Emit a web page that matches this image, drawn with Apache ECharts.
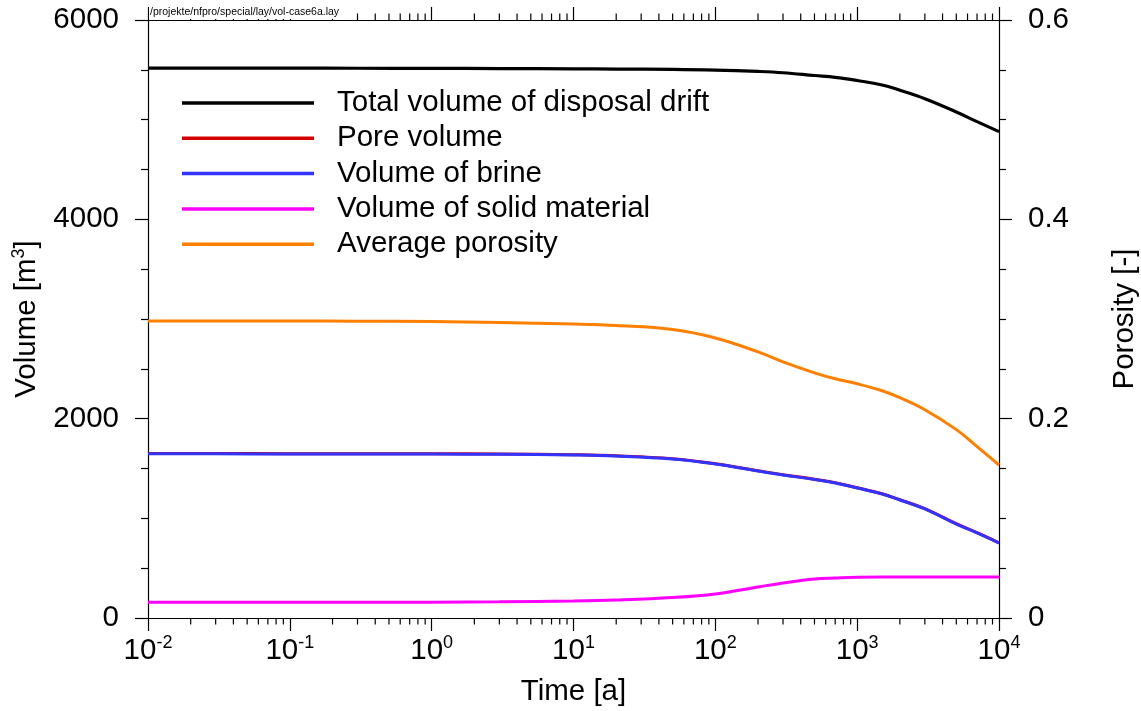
<!DOCTYPE html>
<html>
<head>
<meta charset="utf-8">
<script src="https://cdn.jsdelivr.net/npm/echarts@6/dist/echarts.min.js"></script>
<style>
html,body{margin:0;padding:0;background:#fff;overflow:hidden;}
#c{width:1141px;height:711px;}
</style>
</head>
<body>
<div id="c"></div>
<script>
// Time [a]
const times = [0.01, 0.03, 0.1, 0.3, 1, 3, 10, 20, 50, 100, 200, 300, 500, 700, 1000, 1500, 2000, 3000, 5000, 7000, 10000];
// Volumes [m^3]
const totalVolume = [5518, 5518, 5517, 5516, 5515, 5513, 5510, 5508, 5505, 5498, 5484, 5471, 5443, 5425, 5393, 5348, 5295, 5210, 5077, 4980, 4880];
const poreVolume  = [1650, 1650, 1649, 1649, 1648, 1645, 1638, 1628, 1598, 1548, 1478, 1438, 1393, 1358, 1307, 1247, 1187, 1097, 946, 856, 755];
const brineVolume = [1647, 1647, 1646, 1646, 1645, 1642, 1635, 1625, 1595, 1545, 1475, 1435, 1390, 1355, 1304, 1244, 1184, 1094, 943, 853, 752];
const solidVolume = [158, 158, 158, 158, 159, 162, 170, 180, 205, 241, 311, 351, 391, 401, 409, 411, 411, 411, 411, 411, 411];
// Porosity [-]
const porosity = [0.298, 0.298, 0.298, 0.2978, 0.2975, 0.2965, 0.295, 0.2935, 0.2895, 0.281, 0.267, 0.257, 0.246, 0.240, 0.235, 0.228, 0.221, 0.209, 0.189, 0.172, 0.1535];

const seriesNames = ['Total volume of disposal drift', 'Pore volume', 'Volume of brine', 'Volume of solid material', 'Average porosity'];
const leftTicks = [0, 2000, 4000, 6000];
const rightTicks = [0, 0.2, 0.4, 0.6];
const xMinorTicks = [];
for (let k = -2; k <= 3; k++) for (let m = 2; m <= 9; m++) xMinorTicks.push(m * Math.pow(10, k));

const FONT = '"Liberation Sans", Arial, Helvetica, sans-serif';
const FS = 29.5;
const pair = (arr) => times.map((t, i) => [t, arr[i]]);

const chart = echarts.init(document.getElementById('c'));

const xLabelFmt = (v) => {
  const e = Math.round(Math.log10(v));
  return '{b|10}{s|' + e + '}';
};
const supRich = {
  b: {fontSize: FS, fontFamily: FONT, color: '#000', verticalAlign: 'bottom', lineHeight: FS},
  s: {fontSize: 18, fontFamily: FONT, color: '#000', verticalAlign: 'bottom', padding: [0, 0, 14, 0]}
};

const axisLine = {show: true, onZero: false, lineStyle: {color: '#000', width: 1.2}};

const mkLine = (name, data, color, yIdx, width) => ({
  name, type: 'line', data, yAxisIndex: yIdx, xAxisIndex: 0,
  symbol: 'none', smooth: 0.4, color: color,
  lineStyle: {color, width: width || 3},
  itemStyle: {color},
  emphasis: {disabled: true}, animation: false
});

chart.setOption({
  animation: false,
  backgroundColor: '#fff',
  grid: {left: 148, right: 142, top: 20, bottom: 93, containLabel: false, outerBoundsMode: 'none'},
  legend: {
    data: seriesNames,
    orient: 'vertical',
    left: 177, top: 83,
    icon: 'rect',
    itemWidth: 132, itemHeight: 3.5,
    itemGap: 5.3,
    textStyle: {fontSize: FS, fontFamily: FONT, color: '#000', padding: [0, 0, 0, 18], lineHeight: 29},
    selectedMode: false
  },
  xAxis: [
    {
      type: 'log', logBase: 10, min: 0.01, max: 10000, splitNumber: 6,
      position: 'bottom',
      name: 'Time [a]', nameLocation: 'middle', nameGap: 59,
      nameTextStyle: {fontSize: FS, fontFamily: FONT, color: '#000'},
      axisLine,
      axisTick: {show: true, inside: false, length: 13, lineStyle: {color: '#000', width: 1.2}},
      axisLabel: {formatter: xLabelFmt, rich: supRich, margin: 16, color: '#000'},
      splitLine: {show: false}
    },
    {
      type: 'log', logBase: 10, min: 0.01, max: 10000, splitNumber: 6,
      position: 'top',
      axisLine,
      axisTick: {show: true, inside: false, length: 13, lineStyle: {color: '#000', width: 1.2}},
      axisLabel: {show: false},
      splitLine: {show: false}
    }
  ],
  yAxis: [
    {
      type: 'value', min: 0, max: 6000, interval: 2000, position: 'left',
      name: '{b|Volume [m}{s|3}{b|]}', nameLocation: 'middle', nameGap: 106,
      nameTextStyle: {rich: supRich},
      axisLine,
      axisTick: {show: true, inside: false, length: 13, lineStyle: {color: '#000', width: 1.2}},
      minorTick: {show: true, splitNumber: 4, length: 7, lineStyle: {color: '#000', width: 1.2}},
      axisLabel: {fontSize: FS, fontFamily: FONT, color: '#000', margin: 29,
        formatter: (v) => leftTicks.indexOf(v) >= 0 ? String(v) : ''},
      splitLine: {show: false}, minorSplitLine: {show: false}
    },
    {
      type: 'value', min: 0, max: 0.6, interval: 0.2, position: 'right',
      name: 'Porosity [-]', nameLocation: 'middle', nameGap: 111,
      nameTextStyle: {fontSize: FS, fontFamily: FONT, color: '#000'},
      axisLine,
      axisTick: {show: true, inside: false, length: 13, lineStyle: {color: '#000', width: 1.2}},
      minorTick: {show: true, splitNumber: 4, length: 7, lineStyle: {color: '#000', width: 1.2}},
      axisLabel: {fontSize: FS, fontFamily: FONT, color: '#000', margin: 29,
        formatter: (v) => {
          const r = rightTicks.find(t => Math.abs(t - v) < 1e-9);
          return r === undefined ? '' : String(r);
        }},
      splitLine: {show: false}, minorSplitLine: {show: false}
    }
  ],
  series: [
    {
      name: 'xMinorTicks', type: 'custom', xAxisIndex: 0, yAxisIndex: 0,
      data: xMinorTicks.map(v => [v, 0]),
      encode: {x: 0, y: 1},
      clip: false, silent: true, z: 1,
      renderItem: (params, api) => {
        const x = api.coord([api.value(0), 0])[0];
        const cs = params.coordSys;
        const yb = cs.y + cs.height, yt = cs.y;
        return {
          type: 'group',
          children: [
            {type: 'line', shape: {x1: x, y1: yb, x2: x, y2: yb + 6.5}, style: {stroke: '#000', lineWidth: 1.2}},
            {type: 'line', shape: {x1: x, y1: yt, x2: x, y2: yt - 6.5}, style: {stroke: '#000', lineWidth: 1.2}}
          ]
        };
      }
    },
    mkLine(seriesNames[0], pair(totalVolume), '#000000', 0, 3.2),
    mkLine(seriesNames[1], pair(poreVolume), '#d40000', 0, 3),
    mkLine(seriesNames[2], pair(brineVolume), '#3333ff', 0, 3),
    mkLine(seriesNames[3], pair(solidVolume), '#ff00ff', 0, 3),
    mkLine(seriesNames[4], pair(porosity), '#ff8000', 1, 3)
  ],
  graphic: [
    {type: 'rect', z: 100, shape: {x: 149, y: 4, width: 196, height: 15}, style: {fill: '#fff'}},
    {type: 'text', z: 101, left: 150, top: 7,
      style: {text: '/projekte/nfpro/special/lay/vol-case6a.lay', font: '10.5px "Liberation Sans", Arial, sans-serif', fill: '#000'}}
  ]
});
</script>
</body>
</html>
